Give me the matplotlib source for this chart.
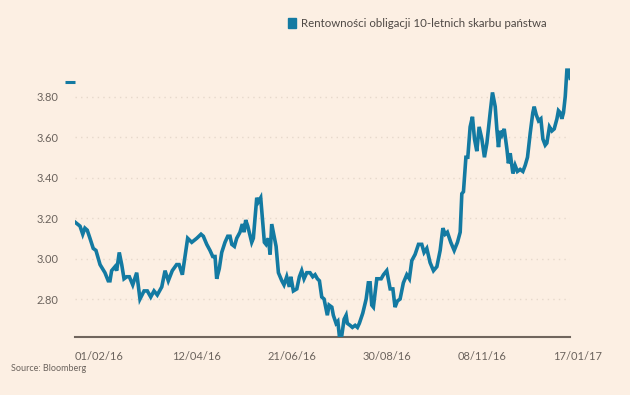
"""Rentowności obligacji 10-letnich skarbu państwa - wykres liniowy"""

import pandas as pd
import matplotlib
matplotlib.use('Agg')
import matplotlib.pyplot as plt
import matplotlib.dates as mdates
from matplotlib.patches import Patch

plt.rcParams['font.family'] = ['Lato', 'DejaVu Sans']

# dni od 01/02/16
start_date = '2016-02-01'
days = [
    0.0, 3.7, 5.7, 7.3, 9.0, 11.0, 13.4, 15.4, 18.4, 22.0,
    24.4, 25.7, 26.9, 29.4, 30.6, 32.5, 34.3, 36.0, 38.0, 39.9,
    42.4, 45.3, 47.7, 50.7, 53.1, 55.6, 58.0, 60.4, 63.7, 66.1,
    68.5, 71.4, 74.6, 76.4, 78.8, 82.7, 85.7, 89.4, 92.5, 94.2,
    96.7, 99.1, 101.1, 102.8, 104.0, 105.9, 107.7, 110.1, 112.1, 113.8,
    115.1, 117.0, 118.7, 121.1, 122.8, 124.1, 125.3, 126.8, 129.7, 130.9,
    133.4, 134.6, 136.3, 139.0, 140.2, 141.9, 143.2, 144.4, 147.6, 149.3,
    151.8, 153.4, 155.4, 157.3, 158.4, 160.3, 162.8, 164.7, 166.4, 168.1,
    170.1, 172.5, 174.5, 176.2, 177.9, 179.4, 181.1, 182.8, 185.2, 186.5,
    188.5, 189.6, 191.6, 192.9, 194.0, 195.8, 197.5, 199.0, 199.9, 201.9,
    203.6, 205.6, 207.3, 208.7, 211.2, 213.7, 215.3, 216.6, 217.8, 219.0,
    221.5, 223.4, 224.7, 226.4, 228.8, 231.3, 233.3, 234.9, 236.6, 238.6,
    241.0, 243.5, 245.4, 247.2, 249.6, 252.1, 254.5, 256.2, 258.2, 260.6,
    263.1, 265.6, 268.0, 270.0, 271.7, 273.3, 275.8, 278.3, 280.7, 282.7,
    283.9, 285.1, 286.9, 288.3, 290.0, 291.7, 293.2, 294.9, 296.6, 298.6,
    300.5, 302.3, 304.7, 306.4, 308.4, 309.6, 310.8, 312.0, 313.3, 315.0,
    317.0, 318.1, 319.4, 321.4, 323.0, 324.7, 326.7, 328.7, 330.4, 332.1,
    334.1, 336.0, 337.0, 338.5, 340.2, 341.9, 343.4, 345.1, 346.3, 348.2,
    350.0, 351.7, 353.7, 354.8, 356.1, 357.3, 358.5, 359.8, 361.0, 362.2,
    363.4,
]
yields = [
    3.18, 3.16, 3.12, 3.15, 3.14, 3.10, 3.05, 3.04, 2.97, 2.93,
    2.89, 2.89, 2.94, 2.96, 2.94, 3.03, 2.97, 2.90, 2.91, 2.91,
    2.87, 2.93, 2.80, 2.84, 2.84, 2.81, 2.84, 2.82, 2.86, 2.94,
    2.89, 2.94, 2.97, 2.97, 2.92, 3.10, 3.08, 3.10, 3.12, 3.11,
    3.07, 3.04, 3.01, 3.01, 2.90, 2.95, 3.03, 3.08, 3.11, 3.11,
    3.07, 3.06, 3.10, 3.13, 3.17, 3.13, 3.19, 3.16, 3.08, 3.10,
    3.30, 3.28, 3.30, 3.08, 3.07, 3.10, 3.02, 3.17, 3.06, 2.93,
    2.89, 2.87, 2.91, 2.86, 2.91, 2.84, 2.85, 2.91, 2.94, 2.90,
    2.93, 2.93, 2.91, 2.92, 2.90, 2.89, 2.81, 2.80, 2.72, 2.77,
    2.76, 2.72, 2.68, 2.69, 2.62, 2.62, 2.70, 2.72, 2.68, 2.67,
    2.66, 2.67, 2.66, 2.68, 2.73, 2.80, 2.88, 2.88, 2.77, 2.76,
    2.90, 2.90, 2.90, 2.92, 2.94, 2.85, 2.85, 2.76, 2.79, 2.80,
    2.88, 2.92, 2.90, 2.99, 3.02, 3.07, 3.07, 3.03, 3.05, 2.98,
    2.94, 2.96, 3.04, 3.15, 3.12, 3.13, 3.08, 3.04, 3.08, 3.13,
    3.32, 3.33, 3.50, 3.50, 3.65, 3.70, 3.59, 3.53, 3.65, 3.59,
    3.50, 3.57, 3.72, 3.82, 3.75, 3.64, 3.55, 3.63, 3.61, 3.64,
    3.54, 3.47, 3.52, 3.42, 3.46, 3.43, 3.44, 3.43, 3.46, 3.50,
    3.62, 3.72, 3.75, 3.71, 3.68, 3.69, 3.59, 3.56, 3.57, 3.65,
    3.63, 3.64, 3.69, 3.73, 3.72, 3.69, 3.72, 3.80, 3.93, 3.93,
    3.89,
]

y_ticks = [2.80, 3.00, 3.20, 3.40, 3.60, 3.80]
x_tick_dates = ['2016-02-01', '2016-04-12', '2016-06-21', '2016-08-30', '2016-11-08', '2017-01-17']

series_label = 'Rentowności obligacji 10-letnich skarbu państwa'
source_text = 'Source: Bloomberg'

BG = '#fcefe3'
LINE = '#137aa2'
TEXT = '#6b635d'
GRID = '#e6d8cb'
AXIS = '#70655d'

dates = pd.Timestamp(start_date) + pd.to_timedelta(days, unit='D')

fig = plt.figure(figsize=(6.3, 3.95), dpi=100, facecolor=BG)
ax = fig.add_axes([0.119, 0.1476, 0.786, 0.685])
ax.set_facecolor(BG)

ax.plot(dates, yields, color=LINE, linewidth=2.6, solid_joinstyle='miter', zorder=3)

ax.set_xlim(dates[0], dates[-1])
ax.set_ylim(2.614, 3.95)

ax.set_yticks(y_ticks)
ax.set_yticklabels([f'{v:.2f}' for v in y_ticks])
ax.set_xticks(pd.to_datetime(x_tick_dates))
ax.xaxis.set_major_formatter(mdates.DateFormatter('%d/%m/%y'))
for lbl in ax.get_xticklabels():
    lbl.set_horizontalalignment('left')

ax.tick_params(axis='both', length=0, labelsize=8, labelcolor=TEXT)
ax.tick_params(axis='x', pad=10)
ax.tick_params(axis='y', pad=12)

# mała kreska u góry osi Y
ax.set_yticks([3.874], minor=True)
ax.tick_params(axis='y', which='minor', length=7, width=2.2, color=LINE, direction='out')

ax.grid(axis='y', linestyle=(0, (1, 3)), color=GRID, linewidth=1)
ax.grid(axis='x', visible=False)

for side in ['top', 'right', 'left']:
    ax.spines[side].set_visible(False)
ax.spines['bottom'].set_color(AXIS)
ax.spines['bottom'].set_linewidth(1.5)

# legenda z kwadratowym znacznikiem
leg_handle = Patch(facecolor=LINE, edgecolor=LINE)
ax.legend([leg_handle], [series_label], loc='lower left', bbox_to_anchor=(0.42, 1.12),
          frameon=False, handlelength=0.75, handleheight=0.9, handletextpad=0.4,
          borderaxespad=0, fontsize=8.3, labelcolor='#4f4945')

fig.text(0.017, 0.066, source_text, fontsize=6.5, color=TEXT, va='center', ha='left')

plt.savefig('out.png', dpi=100, facecolor=BG)
plt.close()
